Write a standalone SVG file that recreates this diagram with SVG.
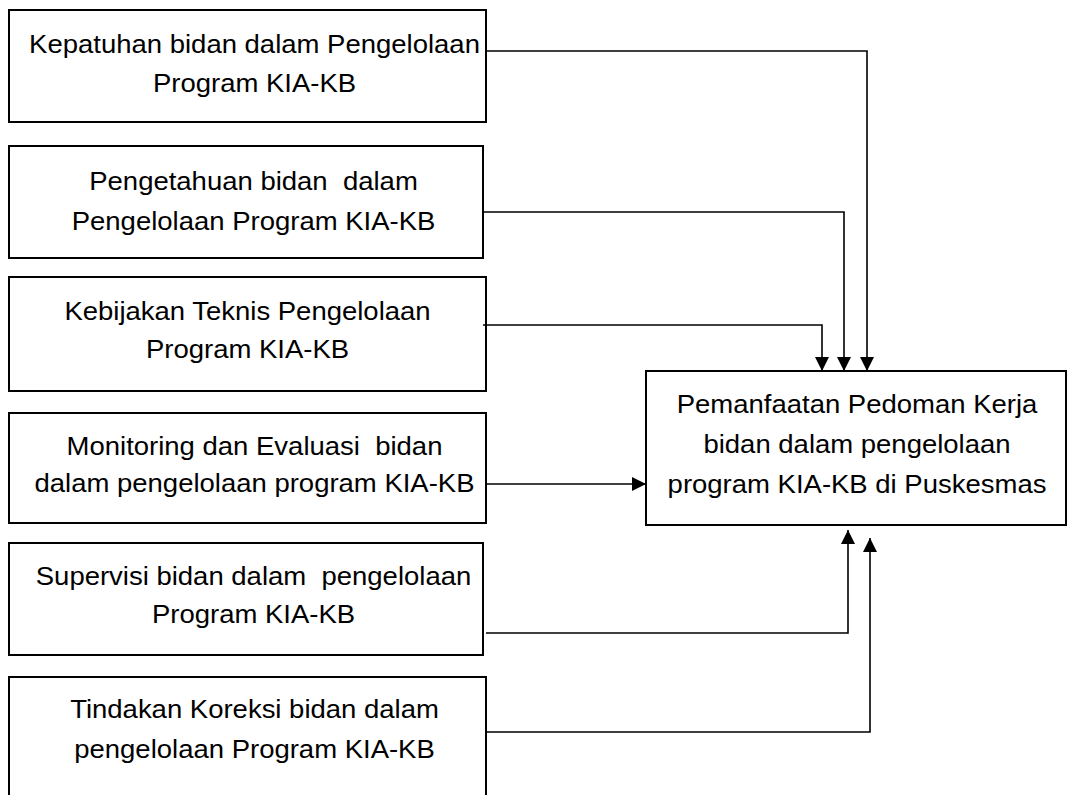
<svg xmlns="http://www.w3.org/2000/svg" width="1068" height="795" viewBox="0 0 1068 795">
<style>
.box{fill:#fff;stroke:#000;stroke-width:2}
.lbl{font-family:"Liberation Sans",Arial,sans-serif;font-size:25px;fill:#000;text-anchor:middle;white-space:pre}
.con{fill:none;stroke:#000;stroke-width:1.6}
</style>
<defs>
<marker id="ah" markerUnits="userSpaceOnUse" markerWidth="14" markerHeight="14" viewBox="0 0 14 14" refX="14" refY="7" orient="auto">
<path d="M0,0 L14,7 L0,14 Z" fill="#000"/>
</marker>
</defs>
<rect width="1068" height="795" fill="#fff"/>
<g id="n1"><rect class="box" x="9" y="10" width="477" height="112"/>
<g transform="translate(254.5,0) scale(1.1,1)"><text class="lbl" x="0" y="53">Kepatuhan bidan dalam Pengelolaan</text><text class="lbl" x="0" y="92">Program KIA-KB</text></g></g>
<g id="n2"><rect class="box" x="9" y="146" width="474" height="112"/>
<g transform="translate(253.5,0) scale(1.1,1)"><text class="lbl" x="0" y="190">Pengetahuan bidan  dalam</text><text class="lbl" x="0" y="230">Pengelolaan Program KIA-KB</text></g></g>
<g id="n3"><rect class="box" x="9" y="277" width="477" height="114"/>
<g transform="translate(247.5,0) scale(1.1,1)"><text class="lbl" x="0" y="320">Kebijakan Teknis Pengelolaan</text><text class="lbl" x="0" y="358">Program KIA-KB</text></g></g>
<g id="n4"><rect class="box" x="9" y="413" width="477" height="110"/>
<g transform="translate(254.5,0) scale(1.1,1)"><text class="lbl" x="0" y="455">Monitoring dan Evaluasi  bidan</text><text class="lbl" x="0" y="492">dalam pengelolaan program KIA-KB</text></g></g>
<g id="n5"><rect class="box" x="9" y="543" width="474" height="112"/>
<g transform="translate(253.5,0) scale(1.1,1)"><text class="lbl" x="0" y="585">Supervisi bidan dalam  pengelolaan</text><text class="lbl" x="0" y="623">Program KIA-KB</text></g></g>
<g id="n6"><rect class="box" x="9" y="677" width="477" height="130"/>
<g transform="translate(254.5,0) scale(1.1,1)"><text class="lbl" x="0" y="718">Tindakan Koreksi bidan dalam</text><text class="lbl" x="0" y="758">pengelolaan Program KIA-KB</text></g></g>
<g id="target"><rect class="box" x="646" y="371" width="420" height="154"/>
<g transform="translate(857,0) scale(1.1,1)"><text class="lbl" x="0" y="413">Pemanfaatan Pedoman Kerja</text><text class="lbl" x="0" y="453">bidan dalam pengelolaan</text><text class="lbl" x="0" y="493">program KIA-KB di Puskesmas</text></g></g>
<g id="connectors">
<path class="con" d="M486,51 H867 V371" marker-end="url(#ah)"/>
<path class="con" d="M483,212 H844 V371" marker-end="url(#ah)"/>
<path class="con" d="M483,325 H822 V371" marker-end="url(#ah)"/>
<path class="con" d="M486,484 H646" marker-end="url(#ah)"/>
<path class="con" d="M486,633 H848 V530" marker-end="url(#ah)"/>
<path class="con" d="M486,732 H870 V538" marker-end="url(#ah)"/>
</g>
</svg>
